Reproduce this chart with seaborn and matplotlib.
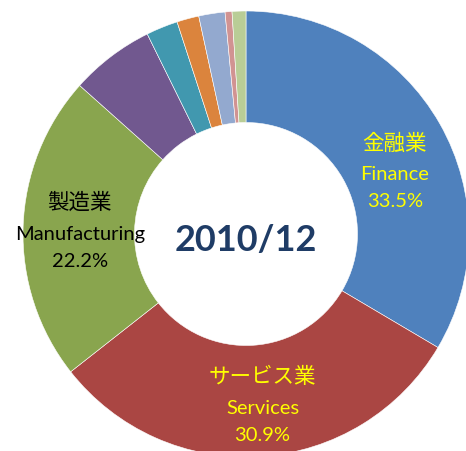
import matplotlib
matplotlib.use("Agg")
import matplotlib.pyplot as plt
import numpy as np
import seaborn as sns

# data: share of lending by industry, Dec 2010 (clockwise from top)
sectors_jp = ["金融業", "サービス業", "製造業", "", "", "", "", "", ""]
sectors_en = ["Finance", "Services", "Manufacturing", "", "", "", "", "", ""]
shares = [33.5, 30.9, 22.2, 6.1, 2.3, 1.6, 1.9, 0.5, 1.0]
labelled = [0, 1, 2]
center_title = "2010/12"

colors = ["#4F81BD", "#AA4643", "#89A54E", "#71588F", "#4198AF",
          "#DB843D", "#93A9CF", "#D19392", "#B9CD96"]
label_colors = ["#FFFF00", "#FFFF00", "#000000"]
label_radius = [0.72, 0.78, 0.745]
label_shift = [-7.7, 1.7, 1.5]

sns.set_theme(style="white")
plt.rcParams["font.family"] = ["Lato", "Noto Sans CJK JP", "DejaVu Sans"]

fig = plt.figure(figsize=(4.66, 4.52), dpi=100)
ax = fig.add_axes([0, 0, 1, 1])

wedges, _ = ax.pie(
    shares,
    colors=colors,
    startangle=90,
    counterclock=False,
    radius=1.0,
    wedgeprops=dict(width=0.5, edgecolor="white", linewidth=0.4),
)

for i, idx in enumerate(labelled):
    w = wedges[idx]
    ang = np.deg2rad((w.theta1 + w.theta2) / 2 + label_shift[i])
    r = label_radius[i]
    xy = (r * np.cos(ang), r * np.sin(ang))
    c = label_colors[i]
    ax.annotate(sectors_jp[idx], xy, xytext=(0, 22.5), textcoords="offset points",
                ha="center", va="center", fontsize=15.5, color=c,
                family=["Noto Sans CJK JP"])
    ax.annotate(sectors_en[idx], xy, ha="center", va="center",
                fontsize=14.5, color=c, family=["Lato"])
    ax.annotate(f"{shares[idx]:.1f}%", xy, xytext=(0, -19.5),
                textcoords="offset points", ha="center", va="center",
                fontsize=14.5, color=c, family=["Lato"])

ax.annotate(center_title, (0, 0), xytext=(0, -4), textcoords="offset points",
            ha="center", va="center", fontsize=26, fontweight="bold",
            color="#1F3C66", family=["Lato", "DejaVu Sans"])

# 223 px per unit radius, centre at (246, 235) px
ax.set_xlim(-246 / 223, (466 - 246) / 223)
ax.set_ylim(-(452 - 235) / 223, 235 / 223)
ax.set_aspect("auto")
ax.axis("off")

fig.savefig("out.png", dpi=100)
